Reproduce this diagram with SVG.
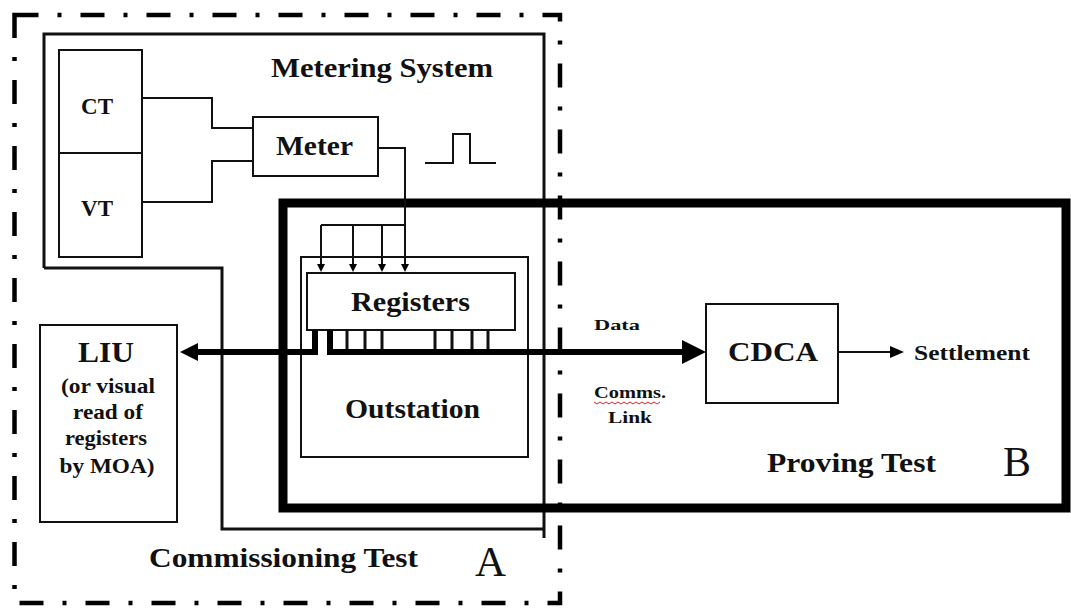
<svg xmlns="http://www.w3.org/2000/svg" width="1071" height="610" viewBox="0 0 1071 610">
<defs>
<style>
.t{font-family:"Liberation Serif","DejaVu Serif",serif;font-weight:700;fill:#111}
.n{font-family:"Liberation Serif","DejaVu Serif",serif;fill:#111}
.thin{fill:none;stroke:#111;stroke-width:2}
.box{fill:#fff;stroke:#111;stroke-width:2}
.bus{fill:none;stroke:#000;stroke-width:6}
</style>
<marker id="bigHead" markerUnits="userSpaceOnUse" markerWidth="26" markerHeight="26" refX="0" refY="12" orient="auto"><path d="M0,0 L24,12 L0,24 z" fill="#000"/></marker>
<marker id="liuHead" markerUnits="userSpaceOnUse" markerWidth="20" markerHeight="20" refX="0" refY="9" orient="auto"><path d="M0,0 L18,9 L0,18 z" fill="#000"/></marker>
<marker id="midHead" markerUnits="userSpaceOnUse" markerWidth="16" markerHeight="14" refX="0" refY="6" orient="auto"><path d="M0,0 L14,6 L0,12 z" fill="#000"/></marker>
<marker id="tinyHead" markerUnits="userSpaceOnUse" markerWidth="10" markerHeight="10" refX="0" refY="4" orient="auto"><path d="M0,0 L8,4 L0,8 z" fill="#000"/></marker>
</defs>
<rect width="1071" height="610" fill="#fff"/>

<g id="commissioning-boundary">
<rect x="14.5" y="15" width="545.5" height="588" fill="none" stroke="#000" stroke-width="4.5" stroke-dasharray="24 19 4 19"/>
<text class="t" x="149" y="567" font-size="27" textLength="269" lengthAdjust="spacingAndGlyphs">Commissioning Test</text>
<text class="n" x="475" y="576" font-size="42" textLength="31" lengthAdjust="spacingAndGlyphs">A</text>
</g>

<g id="metering-system">
<path d="M44,268 V34 H544 V538" fill="none" stroke="#111" stroke-width="3"/>
<path d="M44,268 H222 V529 H544" fill="none" stroke="#111" stroke-width="3"/>
<text class="t" x="271" y="77" font-size="27" textLength="222" lengthAdjust="spacingAndGlyphs">Metering System</text>
</g>

<g id="ct-vt">
<rect class="box" x="59" y="50" width="83" height="207"/>
<line class="thin" x1="59" y1="153" x2="142" y2="153"/>
<text class="t" x="97" y="114" font-size="23" text-anchor="middle">CT</text>
<text class="t" x="97" y="216" font-size="23" text-anchor="middle">VT</text>
</g>

<g id="meter">
<rect class="box" x="253" y="117" width="125" height="59"/>
<text class="t" x="276" y="155" font-size="27" textLength="77" lengthAdjust="spacingAndGlyphs">Meter</text>
</g>

<g id="pulse">
<path class="thin" d="M425,163 H453 V134 H470 V163 H496"/>
</g>

<g id="proving-boundary">
<rect x="283" y="203" width="783" height="305" fill="none" stroke="#000" stroke-width="9"/>
<text class="t" x="767" y="472" font-size="27" textLength="169" lengthAdjust="spacingAndGlyphs">Proving Test</text>
<text class="n" x="1003" y="476" font-size="42" textLength="28" lengthAdjust="spacingAndGlyphs">B</text>
</g>

<g id="outstation">
<rect class="box" x="301" y="257" width="227" height="200"/>
<text class="t" x="345" y="418" font-size="28" textLength="135" lengthAdjust="spacingAndGlyphs">Outstation</text>
</g>

<g id="registers">
<rect class="box" x="307" y="273" width="208" height="57"/>
<text class="t" x="351" y="311" font-size="28" textLength="119" lengthAdjust="spacingAndGlyphs">Registers</text>
</g>

<g id="liu">
<rect class="box" x="40" y="325" width="137" height="197"/>
<text class="t" x="106" y="362" font-size="30" text-anchor="middle" textLength="56" lengthAdjust="spacingAndGlyphs">LIU</text>
<text class="t" x="108" y="393" font-size="22" text-anchor="middle" textLength="94" lengthAdjust="spacingAndGlyphs">(or visual</text>
<text class="t" x="108" y="419" font-size="22" text-anchor="middle" textLength="70" lengthAdjust="spacingAndGlyphs">read of</text>
<text class="t" x="106" y="445" font-size="22" text-anchor="middle" textLength="82" lengthAdjust="spacingAndGlyphs">registers</text>
<text class="t" x="107" y="473" font-size="22" text-anchor="middle" textLength="95" lengthAdjust="spacingAndGlyphs">by MOA)</text>
</g>

<g id="cdca">
<rect class="box" x="706" y="304" width="132" height="99"/>
<text class="t" x="728" y="361" font-size="28" textLength="90" lengthAdjust="spacingAndGlyphs">CDCA</text>
</g>

<g id="settlement">
<text class="t" x="914" y="360" font-size="21" textLength="116" lengthAdjust="spacingAndGlyphs">Settlement</text>
</g>

<g id="connectors">
<polyline class="thin" points="142,98 212,98 212,128 253,128"/>
<polyline class="thin" points="142,202 212,202 212,161 253,161"/>
<polyline class="thin" points="378,148 405,148 405,264" marker-end="url(#tinyHead)"/>
<line class="thin" x1="321" y1="225" x2="405" y2="225"/>
<line class="thin" x1="321" y1="225" x2="321" y2="264" marker-end="url(#tinyHead)"/>
<line class="thin" x1="353" y1="225" x2="353" y2="264" marker-end="url(#tinyHead)"/>
<line class="thin" x1="382" y1="225" x2="382" y2="264" marker-end="url(#tinyHead)"/>
<g stroke="#111" stroke-width="3">
<line x1="347" y1="330" x2="347" y2="352"/>
<line x1="365" y1="330" x2="365" y2="352"/>
<line x1="382" y1="330" x2="382" y2="352"/>
<line x1="435" y1="330" x2="435" y2="352"/>
<line x1="452" y1="330" x2="452" y2="352"/>
<line x1="472" y1="330" x2="472" y2="352"/>
<line x1="488" y1="330" x2="488" y2="352"/>
</g>
<path class="bus" d="M330,330 V352 H682" marker-end="url(#bigHead)"/>
<path class="bus" d="M315,330 V352 H198" marker-end="url(#liuHead)"/>
<line class="thin" x1="838" y1="352" x2="890" y2="352" marker-end="url(#midHead)"/>
<text class="t" x="594" y="330" font-size="15" textLength="46" lengthAdjust="spacingAndGlyphs">Data</text>
<text class="t" x="594" y="398" font-size="16" textLength="72" lengthAdjust="spacingAndGlyphs">Comms.</text>
<path d="M594,402 l3,2 l3,-2 l3,2 l3,-2 l3,2 l3,-2 l3,2 l3,-2 l3,2 l3,-2 l3,2 l3,-2 l3,2 l3,-2 l3,2 l3,-2 l3,2 l3,-2 l3,2 l3,-2 l3,2 l3,-2" fill="none" stroke="#d22" stroke-width="1"/>
<text class="t" x="608" y="423" font-size="16" textLength="44" lengthAdjust="spacingAndGlyphs">Link</text>
</g>
</svg>
